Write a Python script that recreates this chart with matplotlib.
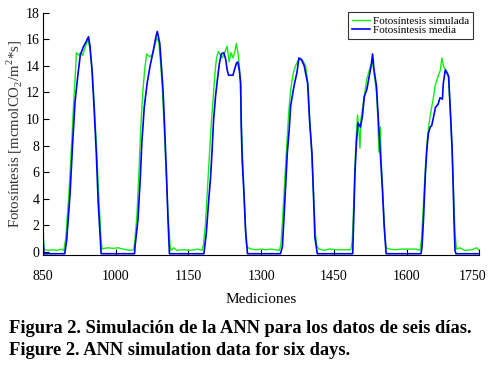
import matplotlib
matplotlib.use("Agg")
import matplotlib.pyplot as plt
import matplotlib.transforms as mtransforms

plt.rcParams['font.family'] = ['Liberation Serif', 'DejaVu Serif']
plt.rcParams['mathtext.fontset'] = 'custom'
plt.rcParams['mathtext.rm'] = 'Liberation Serif'

# Fotosintesis media (blue), vertices
x_media = [850, 852, 895, 899, 906, 911, 916, 922, 927, 933, 940, 944, 947, 951, 955, 960, 964, 968, 970,
           1039, 1040, 1046, 1051, 1054, 1059, 1065, 1071, 1078, 1083, 1086, 1091, 1094, 1098, 1101, 1105, 1108, 1111,
           1182, 1187, 1192, 1196, 1199, 1202, 1206, 1210, 1214, 1218, 1223, 1227, 1230, 1233, 1242, 1245, 1249, 1252,
           1255, 1258, 1259, 1261, 1265, 1268, 1272,
           1340, 1344, 1347, 1351, 1354, 1358, 1361, 1368, 1374, 1378, 1383, 1389, 1396, 1400, 1405, 1408, 1411, 1416,
           1489, 1490, 1492, 1494, 1497, 1500, 1505, 1509, 1513, 1518, 1522, 1527, 1530, 1533, 1538, 1542, 1546, 1550,
           1554, 1558,
           1630, 1632, 1635, 1637, 1639, 1642, 1645, 1649, 1652, 1656, 1660, 1665, 1669, 1674, 1676, 1680, 1683, 1687,
           1690, 1694, 1696, 1698, 1700, 1702, 1750]
y_media = [1.2, -0.15, -0.15, 0.9, 4.4, 8.0, 11.2, 13.3, 14.8, 15.4, 15.9, 16.2, 15.5, 13.8, 11.2, 7.5, 3.7, 1.2, -0.15,
           -0.15, 0.4, 2.4, 5.7, 8.2, 10.9, 12.7, 14.0, 15.2, 16.2, 16.6, 15.7, 14.2, 12.0, 9.4, 5.7, 2.4, -0.15,
           -0.15, 1.4, 3.9, 5.7, 7.7, 9.9, 11.7, 13.0, 14.2, 14.9, 15.0, 14.5, 13.7, 13.3, 13.3, 13.7, 14.2, 14.3,
           13.7, 12.7, 9.5, 6.9, 4.2, 1.6, -0.15,
           -0.15, 0.4, 2.4, 5.2, 7.4, 9.2, 11.0, 12.5, 13.5, 14.6, 14.5, 14.0, 12.7, 9.9, 7.4, 4.4, 1.1, -0.15,
           -0.15, 1.1, 3.7, 6.2, 8.4, 9.7, 9.4, 10.2, 11.7, 12.2, 13.0, 14.0, 14.9, 13.7, 12.5, 9.9, 7.4, 4.9,
           1.9, -0.15,
           -0.15, 0.4, 2.4, 4.2, 5.9, 7.7, 8.9, 9.4, 9.5, 10.2, 10.9, 11.1, 11.6, 11.5, 12.7, 13.7, 13.5, 13.2,
           10.9, 7.9, 5.4, 2.4, 0.1, -0.15, -0.15]

# Fotosintesis simulada (green)
x_sim = [850, 852, 860, 870, 880, 888, 893, 897, 903, 909, 913, 917, 919, 924, 927, 932, 936, 943, 947, 952, 956,
         961, 966, 970, 972, 976, 985, 995, 1005, 1015, 1030, 1037,
         1039, 1044, 1048, 1052, 1056, 1060, 1064, 1070, 1075, 1080, 1085, 1089, 1092, 1096, 1100, 1104, 1108, 1112,
         1114, 1120, 1126, 1140, 1155, 1170, 1178,
         1181, 1185, 1189, 1193, 1197, 1201, 1205, 1208, 1212, 1216, 1220, 1225, 1230, 1234, 1238, 1242, 1246, 1249,
         1253, 1256, 1258, 1261, 1264, 1267, 1270, 1273, 1280, 1290, 1300, 1310, 1320, 1330, 1338,
         1341, 1345, 1349, 1353, 1357, 1361, 1366, 1371, 1376, 1380, 1386, 1392, 1397, 1401, 1405, 1408, 1412, 1415,
         1420, 1430, 1440, 1455, 1470, 1485,
         1488, 1491, 1493, 1496, 1499, 1502, 1504, 1506, 1510, 1514, 1518, 1522, 1526, 1530, 1534, 1538, 1541, 1543,
         1546, 1548, 1551, 1555, 1558, 1565, 1575, 1590, 1605, 1620, 1628,
         1631, 1634, 1637, 1640, 1643, 1646, 1650, 1655, 1659, 1663, 1666, 1670, 1673, 1677, 1681, 1686, 1690, 1694,
         1697, 1700, 1703, 1710, 1720, 1735, 1745, 1750]
y_sim = [2.5, 0.2, 0.1, 0.15, 0.1, 0.2, 0.1, 1.0, 4.0, 8.0, 11.0, 13.5, 15.0, 14.8, 15.0, 14.8, 15.3, 16.0, 15.3,
         13.5, 11.0, 7.5, 3.6, 0.8, 0.2, 0.25, 0.3, 0.25, 0.3, 0.2, 0.1, 0.15,
         0.6, 2.8, 6.0, 9.5, 12.0, 13.8, 14.9, 14.7, 14.8, 15.5, 16.1, 15.8, 14.5, 12.5, 9.5, 6.0, 2.8, 0.6,
         0.1, 0.3, 0.1, 0.15, 0.1, 0.2, 0.1,
         0.5, 2.0, 4.5, 7.0, 9.5, 11.5, 13.5, 14.6, 15.1, 14.8, 14.6, 15.0, 15.5, 14.3, 15.0, 14.6, 15.1, 15.7,
         14.8, 13.6, 11.5, 8.0, 5.0, 2.2, 0.5, 0.3, 0.2, 0.15, 0.2, 0.15, 0.2, 0.15, 0.1,
         0.6, 2.8, 5.5, 8.0, 10.5, 12.2, 13.4, 14.0, 14.4, 14.5, 14.4, 14.0, 12.5, 9.6, 7.0, 4.5, 1.4, 0.4,
         0.2, 0.1, 0.2, 0.15, 0.15, 0.15,
         0.8, 3.5, 6.0, 8.5, 10.3, 9.0, 7.8, 10.0, 11.0, 12.0, 13.0, 13.5, 14.0, 14.3, 13.2, 12.0, 10.0, 7.5,
         9.4, 6.8, 4.5, 1.5, 0.3, 0.2, 0.15, 0.2, 0.2, 0.2, 0.1,
         1.0, 3.0, 5.0, 7.0, 8.5, 9.5, 10.5, 11.5, 12.5, 13.0, 13.3, 13.7, 14.6, 13.9, 13.7, 13.4, 11.0, 7.6,
         4.5, 1.5, 0.2, 0.3, 0.1, 0.15, 0.3, 0.1]

x_ticks = [850, 1000, 1150, 1300, 1450, 1600, 1750]
y_ticks = [0, 2, 4, 6, 8, 10, 12, 14, 16, 18]

fig = plt.figure(figsize=(4.88, 3.67), dpi=100)
ax = fig.add_axes([0.088, 0.305, 0.894, 0.66])

ax.plot(x_sim, y_sim, color='#11ee11', lw=1.0, label='Fotosíntesis simulada')
ax.plot(x_media, y_media, color='#0000ff', lw=1.2, label='Fotosíntesis media')

ax.set_xlim(850, 1750)
ax.set_ylim(-0.25, 18)
ax.set_xticks(x_ticks)
ax.set_yticks(y_ticks)
ax.tick_params(direction='in', length=4, labelsize=10, colors='black')
ax.tick_params(axis='x', pad=11)
ax.tick_params(axis='y', pad=2.5)
ax.spines['top'].set_visible(False)
ax.spines['right'].set_visible(False)

# last x label sits a bit to the left, as in the original
lab = ax.get_xticklabels()[-1]
lab.set_transform(lab.get_transform() + mtransforms.ScaledTranslation(-0.07, 0, fig.dpi_scale_trans))

ax.set_xlabel('Mediciones', fontsize=11, labelpad=7)
ax.set_ylabel('Fotosíntesis [mcmolCO$_2$/m$^2$*s]', fontsize=10.7, color='#333333', labelpad=1)

leg = ax.legend(loc='upper right', bbox_to_anchor=(0.986, 1.004), fontsize=8, frameon=True, fancybox=False,
                edgecolor='black', handlelength=1.6, handletextpad=0.3, borderpad=0.35, labelspacing=0.0,
                borderaxespad=0.0)
leg.get_frame().set_linewidth(0.8)

fig.text(0.018, 0.104, 'Figura 2. Simulación de la ANN para los datos de seis días.',
         fontsize=13.3, fontweight='bold', va='center')
fig.text(0.018, 0.046, 'Figure 2. ANN simulation data for six days.',
         fontsize=13.3, fontweight='bold', va='center')

fig.savefig('out.png', dpi=100)
